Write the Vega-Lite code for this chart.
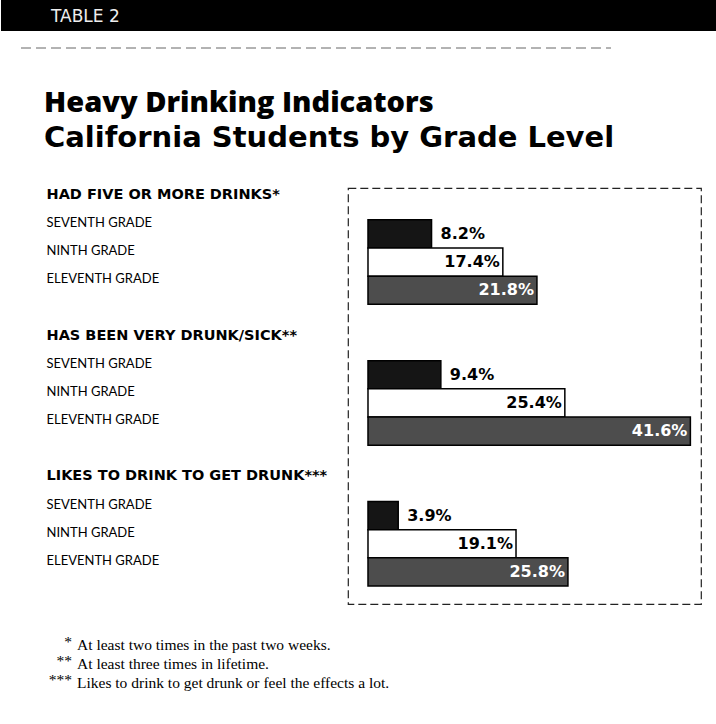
{
  "$schema": "https://vega.github.io/schema/vega-lite/v6.json",
  "padding": 0,
  "background": "white",
  "spacing": 0,
  "config": {"view": {"stroke": null}, "font": "Lato"},
  "datasets": {
    "bars": [
      {"key": "1|SEVENTH GRADE", "grade": "Seventh", "pct": 8.2, "label": "8.2%"},
      {"key": "1|NINTH GRADE", "grade": "Ninth", "pct": 17.4, "label": "17.4%"},
      {"key": "1|ELEVENTH GRADE", "grade": "Eleventh", "pct": 21.8, "label": "21.8%"},
      {"key": "2|SEVENTH GRADE", "grade": "Seventh", "pct": 9.4, "label": "9.4%"},
      {"key": "2|NINTH GRADE", "grade": "Ninth", "pct": 25.4, "label": "25.4%"},
      {"key": "2|ELEVENTH GRADE", "grade": "Eleventh", "pct": 41.6, "label": "41.6%"},
      {"key": "3|SEVENTH GRADE", "grade": "Seventh", "pct": 3.9, "label": "3.9%"},
      {"key": "3|NINTH GRADE", "grade": "Ninth", "pct": 19.1, "label": "19.1%"},
      {"key": "3|ELEVENTH GRADE", "grade": "Eleventh", "pct": 25.8, "label": "25.8%"}
    ],
    "notes": [
      {"n": 1, "mark": "*", "note": "At least two times in the past two weeks."},
      {"n": 2, "mark": "**", "note": "At least three times in lifetime."},
      {"n": 3, "mark": "***", "note": "Likes to drink to get drunk or feel the effects a lot."}
    ]
  },
  "vconcat": [
    {
      "width": 369,
      "height": 88,
      "data": {"values": [{"label": "TABLE 2"}]},
      "layer": [
        {
          "mark": {"type": "rect", "color": "#000"},
          "encoding": {
            "x": {"datum": 0, "type": "quantitative", "scale": {"domain": [347, 716], "nice": false, "zero": false}, "axis": null},
            "x2": {"datum": 716},
            "y": {"datum": 0, "type": "quantitative", "scale": {"domain": [88, 0], "nice": false, "zero": false}, "axis": null},
            "y2": {"datum": 31}
          }
        },
        {
          "mark": {"type": "rule", "color": "#666", "strokeDash": [10, 5], "strokeWidth": 1},
          "encoding": {
            "x": {"datum": 20, "type": "quantitative"},
            "x2": {"datum": 610},
            "y": {"datum": 48, "type": "quantitative"}
          }
        },
        {
          "mark": {"type": "text", "align": "left", "baseline": "middle", "color": "#eee", "fontSize": 17, "font": "DejaVu Sans"},
          "encoding": {
            "x": {"datum": 50, "type": "quantitative"},
            "y": {"datum": 17, "type": "quantitative"},
            "text": {"field": "label"}
          }
        }
      ]
    },
    {
      "spacing": 30,
      "vconcat": [
        {
          "width": 353,
          "height": 416,
          "title": {
            "text": "Heavy Drinking Indicators",
            "subtitle": "California Students by Grade Level",
            "anchor": "start",
            "dx": 43,
            "fontSize": 29,
            "font": "Open Sans",
            "fontWeight": 800,
            "color": "#000",
            "subtitleFont": "DejaVu Sans",
            "subtitleFontSize": 29,
            "subtitleFontWeight": "bold",
            "subtitleColor": "#000",
            "subtitlePadding": 6,
            "offset": 33
          },
          "view": {"stroke": "#222", "strokeDash": [8, 4], "strokeWidth": 1.2},
          "data": {"name": "bars"},
          "encoding": {
            "y": {
              "field": "key",
              "type": "nominal",
              "scale": {
                "domain": ["1|HAD FIVE OR MORE DRINKS*", "1|SEVENTH GRADE", "1|NINTH GRADE", "1|ELEVENTH GRADE", "1|",
                           "2|HAS BEEN VERY DRUNK/SICK**", "2|SEVENTH GRADE", "2|NINTH GRADE", "2|ELEVENTH GRADE", "2|",
                           "3|LIKES TO DRINK TO GET DRUNK***", "3|SEVENTH GRADE", "3|NINTH GRADE", "3|ELEVENTH GRADE"],
                "paddingInner": 0,
                "paddingOuter": 0.385,
                "align": 0.17
              },
              "axis": {
                "title": null,
                "domain": false,
                "ticks": false,
                "tickSize": 0,
                "labelAlign": "left",
                "labelBaseline": "middle",
                "labelPadding": 302,
                "minExtent": 347,
                "labelLimit": 400,
                "labelOffset": -11,
                "labelColor": "#000",
                "labelExpr": "split(datum.value, '|')[1]",
                "labelFont": {"condition": {"test": "datum.value == '1|HAD FIVE OR MORE DRINKS*' || datum.value == '2|HAS BEEN VERY DRUNK/SICK**' || datum.value == '3|LIKES TO DRINK TO GET DRUNK***'", "value": "DejaVu Sans"}, "value": "Lato"},
                "labelFontSize": {"condition": {"test": "datum.value == '1|HAD FIVE OR MORE DRINKS*' || datum.value == '2|HAS BEEN VERY DRUNK/SICK**' || datum.value == '3|LIKES TO DRINK TO GET DRUNK***'", "value": 14.5}, "value": 13},
                "labelFontWeight": {"condition": {"test": "datum.value == '1|HAD FIVE OR MORE DRINKS*' || datum.value == '2|HAS BEEN VERY DRUNK/SICK**' || datum.value == '3|LIKES TO DRINK TO GET DRUNK***'", "value": "bold"}, "value": "normal"}
              }
            }
          },
          "layer": [
            {
              "mark": {"type": "bar", "stroke": "#000", "strokeWidth": 1.5},
              "encoding": {
                "x": {"field": "pct", "type": "quantitative", "scale": {"domain": [-2.58, 42.97], "nice": false, "zero": false}, "axis": null},
                "x2": {"datum": 0},
                "color": {"field": "grade", "type": "nominal", "scale": {"domain": ["Seventh", "Ninth", "Eleventh"], "range": ["#151515", "#ffffff", "#4d4d4d"]}, "legend": null}
              }
            },
            {
              "transform": [{"filter": "datum.grade == 'Seventh'"}],
              "mark": {"type": "text", "align": "left", "baseline": "middle", "dx": 9, "fontSize": 16, "fontWeight": "bold", "font": "DejaVu Sans", "color": "#000"},
              "encoding": {"x": {"field": "pct", "type": "quantitative"}, "text": {"field": "label"}}
            },
            {
              "transform": [{"filter": "datum.grade == 'Ninth'"}],
              "mark": {"type": "text", "align": "right", "baseline": "middle", "dx": -3, "fontSize": 16, "fontWeight": "bold", "font": "DejaVu Sans", "color": "#000"},
              "encoding": {"x": {"field": "pct", "type": "quantitative"}, "text": {"field": "label"}}
            },
            {
              "transform": [{"filter": "datum.grade == 'Eleventh'"}],
              "mark": {"type": "text", "align": "right", "baseline": "middle", "dx": -3, "fontSize": 16, "fontWeight": "bold", "font": "DejaVu Sans", "color": "#fff"},
              "encoding": {"x": {"field": "pct", "type": "quantitative"}, "text": {"field": "label"}}
            }
          ]
        },
        {
          "width": 369,
          "height": 56,
          "data": {"name": "notes"},
          "encoding": {
            "y": {"field": "n", "type": "ordinal", "scale": {"paddingInner": 0, "paddingOuter": 0}, "axis": null}
          },
          "layer": [
            {
              "mark": {"type": "text", "align": "right", "baseline": "middle", "font": "Liberation Serif", "fontSize": 15.5, "color": "#000", "dy": -3},
              "encoding": {
                "x": {"datum": 71, "type": "quantitative", "scale": {"domain": [347, 716], "nice": false, "zero": false}, "axis": null},
                "text": {"field": "mark"}
              }
            },
            {
              "mark": {"type": "text", "align": "left", "baseline": "middle", "font": "Liberation Serif", "fontSize": 15.5, "color": "#000"},
              "encoding": {
                "x": {"datum": 76, "type": "quantitative"},
                "text": {"field": "note"}
              }
            }
          ]
        }
      ]
    }
  ]
}
